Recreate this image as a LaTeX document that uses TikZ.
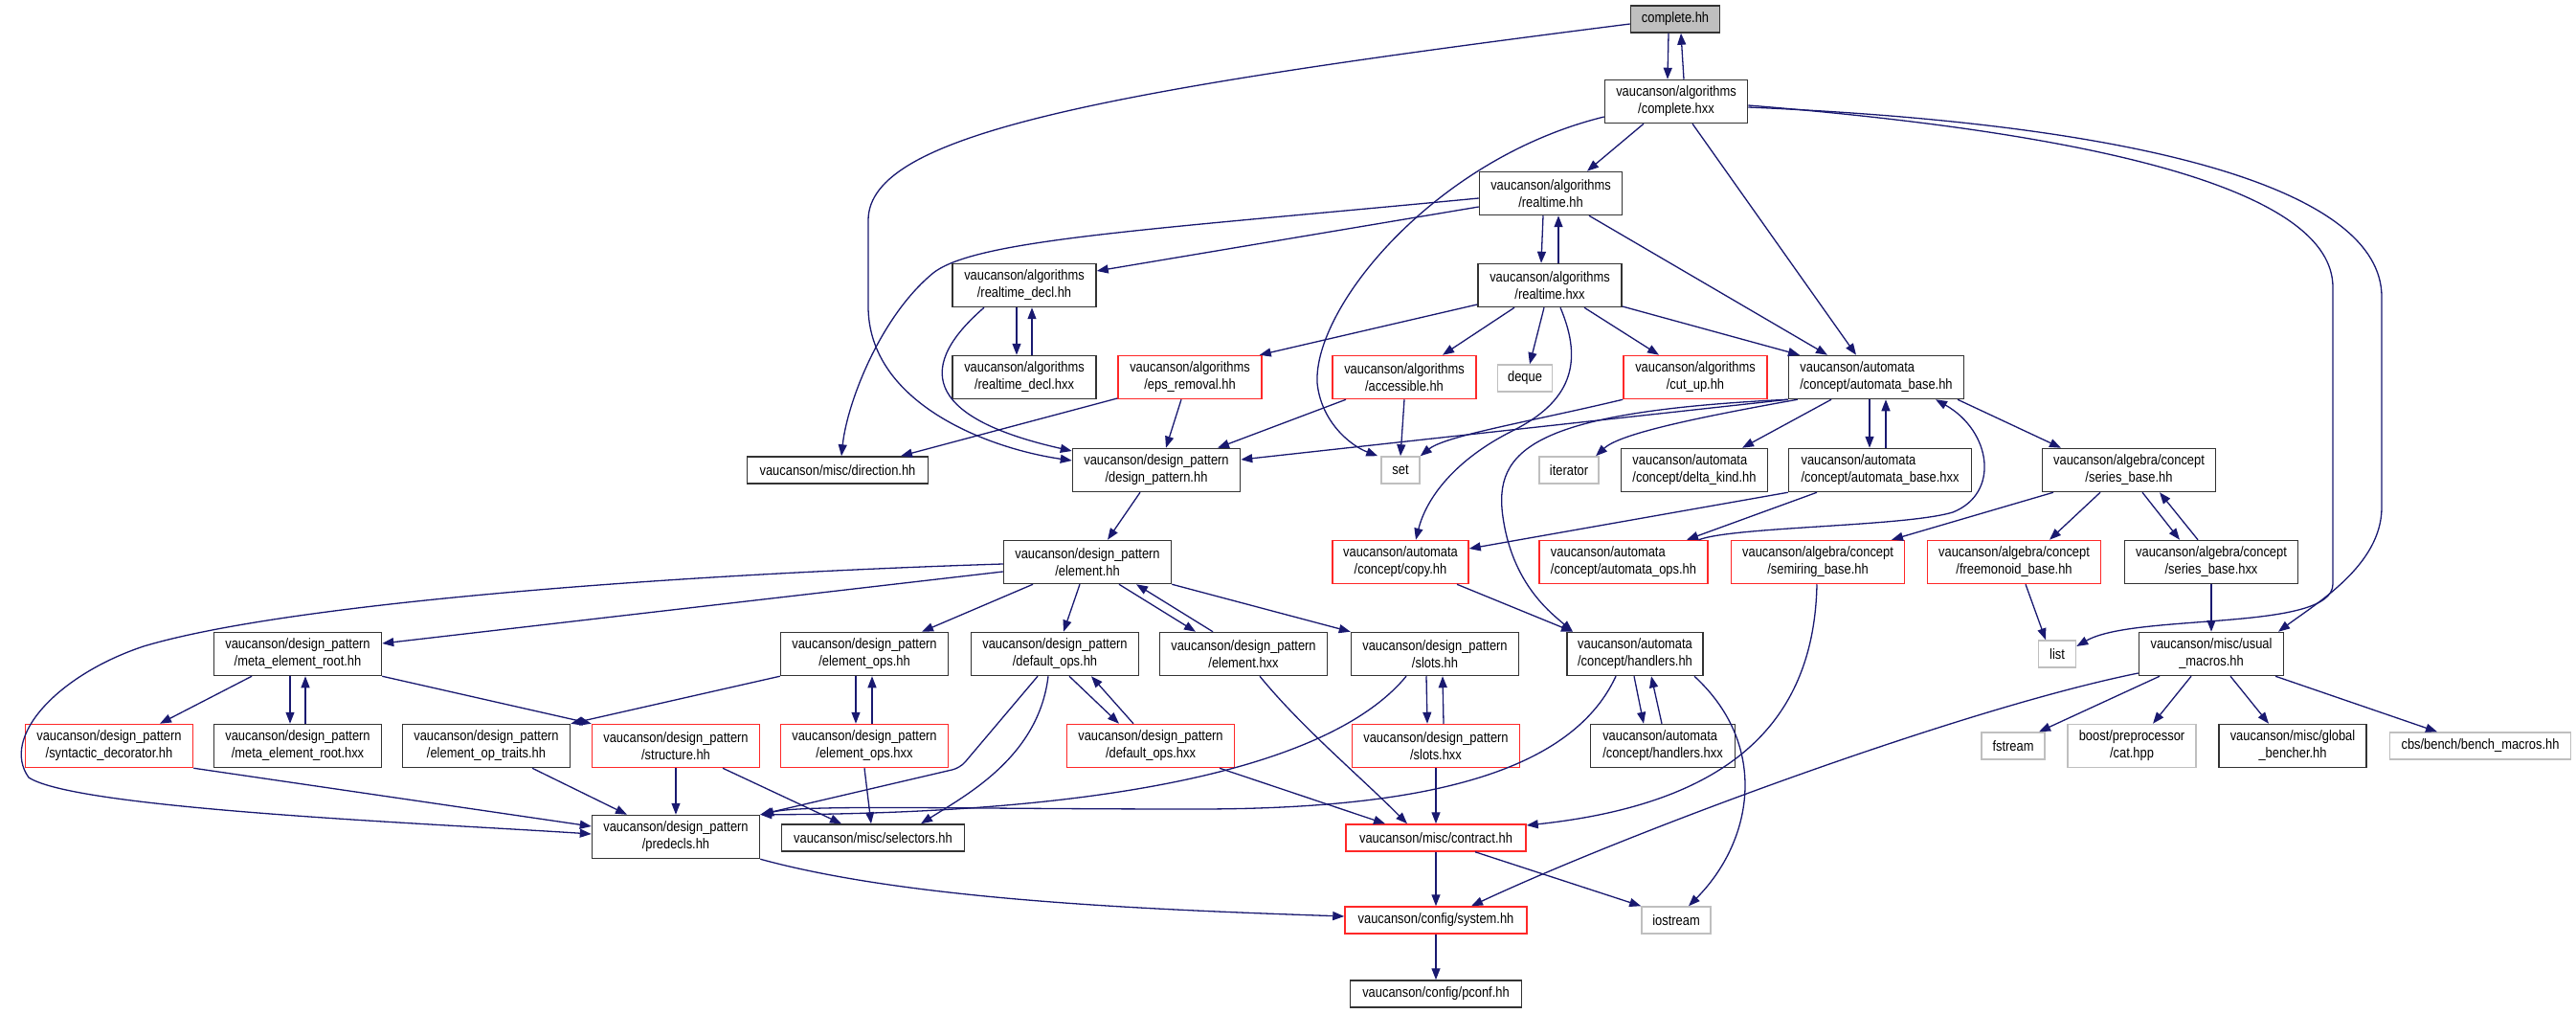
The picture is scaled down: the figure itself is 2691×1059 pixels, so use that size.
\documentclass[tikz,border=0pt]{standalone}
\usepackage{fontspec}
\setmainfont[FakeStretch=0.86]{Liberation Sans}
\usetikzlibrary{arrows.meta}
\definecolor{edgeblue}{RGB}{25,25,112}
\definecolor{truncred}{RGB}{255,40,40}

\begin{document}
\begin{tikzpicture}[x=1pt, y=-1pt,
    every node/.style={font=\fontsize{15}{18}\selectfont, inner sep=0pt, align=center},
    file/.style={draw=black!80, line width=1.5pt, fill=white, minimum height=45pt},
    trunc/.style={file, draw=truncred},
    sys/.style={file, draw=black!25},
    one/.style={minimum height=28pt},
    inc/.style={draw=edgeblue, line width=1.3pt, -{Triangle[length=12pt,width=9pt]}}]
    \useasboundingbox (0, 0) rectangle (2691, 1059);

    % files, row by row
    \node[file, one, fill=black!25, minimum width=93pt] (complete) at (1750, 20) {complete.hh};
    \node[file, minimum width=149pt] (completehxx) at (1751, 106) {vaucanson/algorithms\\/complete.hxx};
    \node[file, minimum width=149pt] (realtimehh) at (1620, 202) {vaucanson/algorithms\\/realtime.hh};
    \node[file, minimum width=150pt] (realtimehxx) at (1619, 298) {vaucanson/algorithms\\/realtime.hxx};
    \node[file, minimum width=150pt] (rtdeclhh) at (1070, 298) {vaucanson/algorithms\\/realtime\_decl.hh};
    \node[file, minimum width=150pt] (rtdeclhxx) at (1070, 394) {vaucanson/algorithms\\/realtime\_decl.hxx};
    \node[trunc, minimum width=150pt] (epsremoval) at (1243, 394) {vaucanson/algorithms\\/eps\_removal.hh};
    \node[trunc, minimum width=150pt] (accessible) at (1467, 394) {vaucanson/algorithms\\/accessible.hh};
    \node[sys, one, minimum width=57pt] (deque) at (1593, 395) {deque};
    \node[trunc, minimum width=150pt] (cutup) at (1771, 394) {vaucanson/algorithms\\/cut\_up.hh};
    \node[file, align=left, minimum width=183pt] (autbasehh) at (1960, 394) {vaucanson/automata\\/concept/automata\_base.hh};

    \node[file, one, minimum width=189pt] (direction) at (875, 491) {vaucanson/misc/direction.hh};
    \node[file, minimum width=175pt] (dpattern) at (1208, 491) {vaucanson/design\_pattern\\/design\_pattern.hh};
    \node[sys, one, minimum width=40pt] (set) at (1463, 491) {set};
    \node[sys, one, minimum width=62pt] (iterator) at (1639, 491) {iterator};
    \node[file, align=left, minimum width=153pt] (deltakind) at (1770, 491) {vaucanson/automata\\/concept/delta\_kind.hh};
    \node[file, align=left, minimum width=191pt] (autbasehxx) at (1964, 491) {vaucanson/automata\\/concept/automata\_base.hxx};
    \node[file, minimum width=181pt] (seriesbasehh) at (2224, 491) {vaucanson/algebra/concept\\/series\_base.hh};

    \node[file, minimum width=175pt] (element) at (1136, 587) {vaucanson/design\_pattern\\/element.hh};
    \node[trunc, minimum width=142pt] (copy) at (1463, 587) {vaucanson/automata\\/concept/copy.hh};
    \node[trunc, align=left, minimum width=176pt] (autops) at (1696, 587) {vaucanson/automata\\/concept/automata\_ops.hh};
    \node[trunc, minimum width=181pt] (semiring) at (1899, 587) {vaucanson/algebra/concept\\/semiring\_base.hh};
    \node[trunc, minimum width=181pt] (freemonoid) at (2104, 587) {vaucanson/algebra/concept\\/freemonoid\_base.hh};
    \node[file, minimum width=181pt] (seriesbasehxx) at (2310, 587) {vaucanson/algebra/concept\\/series\_base.hxx};

    \node[file, minimum width=175pt] (metaroot) at (311, 683) {vaucanson/design\_pattern\\/meta\_element\_root.hh};
    \node[file, minimum width=175pt] (elemops) at (903, 683) {vaucanson/design\_pattern\\/element\_ops.hh};
    \node[file, minimum width=175pt] (defops) at (1102, 683) {vaucanson/design\_pattern\\/default\_ops.hh};
    \node[file, minimum width=175pt] (elementhxx) at (1299, 683) {vaucanson/design\_pattern\\/element.hxx};
    \node[file, minimum width=175pt] (slots) at (1499, 683) {vaucanson/design\_pattern\\/slots.hh};
    \node[file, align=left, minimum width=142pt] (handlers) at (1708, 683) {vaucanson/automata\\/concept/handlers.hh};
    \node[sys, one, minimum width=39pt] (list) at (2149, 683) {list};
    \node[file, minimum width=151pt] (usual) at (2310, 683) {vaucanson/misc/usual\\\_macros.hh};

    \node[trunc, minimum width=175pt] (syntactic) at (114, 779) {vaucanson/design\_pattern\\/syntactic\_decorator.hh};
    \node[file, minimum width=175pt] (metaroothxx) at (311, 779) {vaucanson/design\_pattern\\/meta\_element\_root.hxx};
    \node[file, minimum width=175pt] (optraits) at (508, 779) {vaucanson/design\_pattern\\/element\_op\_traits.hh};
    \node[trunc, minimum width=175pt] (structure) at (706, 779) {vaucanson/design\_pattern\\/structure.hh};
    \node[trunc, minimum width=175pt] (elemopshxx) at (903, 779) {vaucanson/design\_pattern\\/element\_ops.hxx};
    \node[trunc, minimum width=175pt] (defopshxx) at (1202, 779) {vaucanson/design\_pattern\\/default\_ops.hxx};
    \node[trunc, minimum width=175pt] (slotshxx) at (1500, 779) {vaucanson/design\_pattern\\/slots.hxx};
    \node[file, align=left, minimum width=151pt] (handlershxx) at (1737, 779) {vaucanson/automata\\/concept/handlers.hxx};
    \node[sys, one, minimum width=66pt] (fstream) at (2103, 779) {fstream};
    \node[sys, minimum width=134pt] (cathpp) at (2227, 779) {boost/preprocessor\\/cat.hpp};
    \node[file, minimum width=154pt] (bencher) at (2395, 779) {vaucanson/misc/global\\\_bencher.hh};
    \node[sys, one, minimum width=189pt] (benchmacros) at (2591, 779) {cbs/bench/bench\_macros.hh};

    \node[file, minimum width=175pt] (predecls) at (706, 874) {vaucanson/design\_pattern\\/predecls.hh};
    \node[file, one, minimum width=191pt] (selectors) at (912, 875) {vaucanson/misc/selectors.hh};
    \node[trunc, one, minimum width=188pt] (contract) at (1500, 875) {vaucanson/misc/contract.hh};
    \node[trunc, one, minimum width=190pt] (system) at (1500, 961) {vaucanson/config/system.hh};
    \node[sys, one, minimum width=72pt] (iostream) at (1751, 961) {iostream};
    \node[file, one, minimum width=179pt] (pconf) at (1500, 1038) {vaucanson/config/pconf.hh};

    % includes
    \draw[inc] ([xshift=-7pt]complete.south) -- ([xshift=-9pt]completehxx.north);
    \draw[inc] ([xshift=8pt]completehxx.north) -- ([xshift=6pt]complete.south);
    \draw[inc] ([yshift=-5pt]complete.west) .. controls (1150, 95) and (907, 140) .. (907, 230) -- (907, 320) .. controls (907, 420) and (1030, 468) .. ([yshift=10pt]dpattern.west);

    \draw[inc] ([xshift=-34pt]completehxx.south) -- ([xshift=38pt]realtimehh.north);
    \draw[inc] ([xshift=17pt]completehxx.south) -- ([xshift=-21pt]autbasehh.north);
    \draw[inc] ([yshift=-16pt]completehxx.west) .. controls (1500, 165) and (1372, 320) .. (1376, 400) .. controls (1380, 440) and (1410, 465) .. ([xshift=-3pt]set.north west);
    \draw[inc] ([yshift=-4pt]completehxx.east) .. controls (2200, 140) and (2437, 200) .. (2437, 300) -- (2437, 610) .. controls (2437, 660) and (2230, 640) .. ([yshift=8pt]list.east);
    \draw[inc] ([yshift=-6pt]completehxx.east) .. controls (2250, 130) and (2488, 200) .. (2488, 310) -- (2488, 530) .. controls (2488, 590) and (2420, 630) .. ([xshift=70pt]usual.north);

    \draw[inc] ([xshift=-8pt]realtimehh.south) -- ([xshift=-9pt]realtimehxx.north);
    \draw[inc] ([xshift=9pt]realtimehxx.north) -- ([xshift=8pt]realtimehh.south);
    \draw[inc] ([yshift=-14pt]realtimehh.west) -- ([yshift=15pt]rtdeclhh.east);
    \draw[inc] ([yshift=-5pt]realtimehh.west) .. controls (1200, 240) and (1020, 250) .. (975, 285) .. controls (920, 330) and (885, 420) .. ([xshift=4pt]direction.north);
    \draw[inc] ([xshift=40pt]realtimehh.south) -- ([xshift=-51pt]autbasehh.north);

    \draw[inc] ([yshift=-20pt]realtimehxx.west) -- ([xshift=-3pt]epsremoval.north east);
    \draw[inc] ([xshift=-37pt]realtimehxx.south) -- ([xshift=40pt]accessible.north);
    \draw[inc] ([xshift=-6pt]realtimehxx.south) -- ([xshift=5pt]deque.north);
    \draw[inc] ([xshift=36pt]realtimehxx.south) -- ([xshift=-38pt]cutup.north);
    \draw[inc] ([yshift=-22pt]realtimehxx.east) -- ([xshift=-80pt]autbasehh.north);
    \draw[inc] ([xshift=11pt]realtimehxx.south) .. controls (1655, 380) and (1640, 420) .. (1580, 450) .. controls (1520, 480) and (1490, 520) .. ([xshift=16pt]copy.north);

    \draw[inc] ([xshift=-8pt]rtdeclhh.south) -- ([xshift=-8pt]rtdeclhxx.north);
    \draw[inc] ([xshift=8pt]rtdeclhxx.north) -- ([xshift=8pt]rtdeclhh.south);
    \draw[inc] ([xshift=-42pt]rtdeclhh.south) .. controls (960, 380) and (960, 435) .. ([yshift=20pt]dpattern.west);

    \draw[inc] ([yshift=-22pt]epsremoval.west) -- ([xshift=66pt]direction.north);
    \draw[inc] ([xshift=-9pt]epsremoval.south) -- ([xshift=10pt]dpattern.north);
    \draw[inc] ([xshift=-61pt]accessible.south) -- ([xshift=64pt]dpattern.north);
    \draw[inc] (accessible.south) -- (set.north);
    \draw[inc] (cutup.south west) .. controls (1600, 440) and (1510, 455) .. (set.north east);

    \draw[inc] (autbasehh.south west) -- ([yshift=11pt]dpattern.east);
    \draw[inc] ([xshift=10pt]autbasehh.south west) .. controls (1750, 440) and (1690, 455) .. ([xshift=28pt]iterator.north);
    \draw[inc] (autbasehh.south west) .. controls (1600, 430) and (1560, 470) .. (1570, 540) .. controls (1580, 610) and (1620, 640) .. ([xshift=-65pt]handlers.north);
    \draw[inc] ([xshift=-47pt]autbasehh.south) -- ([xshift=50pt]deltakind.north);
    \draw[inc] ([xshift=-7pt]autbasehh.south) -- ([xshift=-11pt]autbasehxx.north);
    \draw[inc] ([xshift=6pt]autbasehxx.north) -- ([xshift=10pt]autbasehh.south);
    \draw[inc] ([xshift=85pt]autbasehh.south) -- ([xshift=-71pt]seriesbasehh.north);
    \draw[inc] ([xshift=-10pt]autops.north east) .. controls (1810, 550) and (1990, 550) .. (2040, 535) .. controls (2090, 515) and (2080, 450) .. ([xshift=62pt]autbasehh.south);

    \draw[inc] (autbasehxx.south west) -- ([yshift=14pt]copy.east);
    \draw[inc] ([xshift=-66pt]autbasehxx.south) -- ([xshift=66pt]autops.north);

    \draw[inc] ([xshift=-79pt]seriesbasehh.south) -- ([xshift=77pt]semiring.north);
    \draw[inc] ([xshift=-30pt]seriesbasehh.south) -- ([xshift=37pt]freemonoid.north);
    \draw[inc] ([xshift=14pt]seriesbasehh.south) -- ([xshift=-33pt]seriesbasehxx.north);
    \draw[inc] ([xshift=-14pt]seriesbasehxx.north) -- ([xshift=32pt]seriesbasehh.south);
    \draw[inc] (seriesbasehxx.south) -- (usual.north);
    \draw[inc] ([xshift=12pt]freemonoid.south) -- ([xshift=-12pt]list.north);
    \draw[inc] ([xshift=-1pt]semiring.south) .. controls (1895, 760) and (1800, 840) .. ([yshift=13pt]contract.east);

    \draw[inc] ([xshift=59pt]copy.south) -- ([xshift=-65pt]handlers.north);
    \draw[inc] ([xshift=-1pt]handlers.south) -- ([xshift=-20pt]handlershxx.north);
    \draw[inc] ([xshift=-1pt]handlershxx.north) -- ([xshift=17pt]handlers.south);
    \draw[inc] ([xshift=-20pt]handlers.south) .. controls (1640, 810) and (1480, 845) .. (1250, 845) .. controls (1000, 845) and (840, 840) .. ([xshift=2pt]predecls.north east);
    \draw[inc] ([xshift=62pt]handlers.south) .. controls (1850, 780) and (1830, 880) .. ([xshift=13pt]iostream.north);

    \draw[inc] ([xshift=-17pt]dpattern.south) -- ([xshift=21pt]element.north);
    \draw[inc] ([yshift=-2pt]element.west) .. controls (700, 600) and (300, 630) .. (150, 675) .. controls (60, 705) and (0, 770) .. (30, 812) .. controls (80, 845) and (450, 860) .. ([yshift=3pt]predecls.west);
    \draw[inc] ([yshift=-10pt]element.west) -- ([yshift=11pt]metaroot.east);
    \draw[inc] ([xshift=-57pt]element.south) -- ([xshift=60pt]elemops.north);
    \draw[inc] ([xshift=-8pt]element.south) -- ([xshift=9pt]defops.north);
    \draw[inc] ([xshift=33pt]element.south) -- ([xshift=-50pt]elementhxx.north);
    \draw[inc] ([xshift=-32pt]elementhxx.north) -- ([xshift=51pt]element.south);
    \draw[inc] (element.south east) -- (slots.north west);

    \draw[inc] ([xshift=-48pt]metaroot.south) -- ([xshift=53pt]syntactic.north);
    \draw[inc] ([xshift=-8pt]metaroot.south) -- ([xshift=-8pt]metaroothxx.north);
    \draw[inc] ([xshift=8pt]metaroothxx.north) -- ([xshift=8pt]metaroot.south);
    \draw[inc] (metaroot.south east) -- (structure.north west);

    \draw[inc] (elemops.south west) -- (optraits.north east);
    \draw[inc] ([xshift=-9pt]elemops.south) -- ([xshift=-9pt]elemopshxx.north);
    \draw[inc] ([xshift=8pt]elemopshxx.north) -- ([xshift=8pt]elemops.south);

    \draw[inc] ([xshift=15pt]defops.south) -- ([xshift=-33pt]defopshxx.north);
    \draw[inc] ([xshift=-18pt]defopshxx.north) -- ([xshift=38pt]defops.south);
    \draw[inc, rounded corners=8pt] ([xshift=-18pt]defops.south) -- (1003, 802) -- (predecls.north east);
    \draw[inc] ([xshift=-7pt]defops.south) .. controls (1085, 790) and (1010, 830) .. ([xshift=50pt]selectors.north);
    \draw[inc] ([xshift=17pt]elementhxx.south) .. controls (1360, 760) and (1420, 810) .. ([xshift=-30pt]contract.north);
    \draw[inc] ([xshift=72pt]defopshxx.south) -- ([xshift=-53pt]contract.north);

    \draw[inc] ([xshift=-9pt]slots.south) -- ([xshift=-9pt]slotshxx.north);
    \draw[inc] ([xshift=8pt]slotshxx.north) -- ([xshift=8pt]slots.south);
    \draw[inc] ([xshift=-30pt]slots.south) .. controls (1400, 790) and (1200, 850) .. (predecls.north east);
    \draw[inc] (slotshxx.south) -- (contract.north);

    \draw[inc] (syntactic.south east) -- ([yshift=11pt]predecls.west);
    \draw[inc] ([xshift=48pt]optraits.south) -- ([xshift=-51pt]predecls.north);
    \draw[inc] (structure.south) -- (predecls.north);
    \draw[inc] ([xshift=49pt]structure.south) -- ([xshift=-33pt]selectors.north);
    \draw[inc] (elemopshxx.south) -- ([xshift=-2pt]selectors.north);

    \draw[inc] (contract.south) -- (system.north);
    \draw[inc] ([xshift=41pt]contract.south) -- (iostream.north west);
    \draw[inc] (predecls.south east) .. controls (950, 940) and (1200, 950) .. ([yshift=4pt]system.west);
    \draw[inc] (system.south) -- (pconf.north);

    \draw[inc] ([yshift=-20pt]usual.west) .. controls (2050, 740) and (1700, 870) .. ([xshift=37pt]system.north);
    \draw[inc] ([xshift=-54pt]usual.south) -- ([xshift=27pt]fstream.north);
    \draw[inc] ([xshift=-21pt]usual.south) -- ([xshift=22pt]cathpp.north);
    \draw[inc] ([xshift=20pt]usual.south) -- ([xshift=-25pt]bencher.north);
    \draw[inc] ([xshift=67pt]usual.south) -- ([xshift=-45pt]benchmacros.north);
\end{tikzpicture}
\end{document}
